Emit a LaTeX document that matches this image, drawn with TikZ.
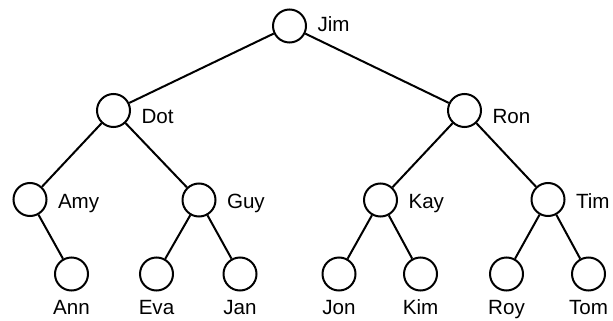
\documentclass[tikz,border=0pt]{standalone}
\usepackage{fontspec}
\setmainfont{Liberation Sans}
\usepackage{tikz}
\usetikzlibrary{positioning}

\begin{document}
\begin{tikzpicture}[x=0.5pt,y=-0.5pt,line width=1pt,
  person/.style={draw,circle,minimum size=16.5pt,inner sep=0pt},
  every label/.style={inner sep=0pt,font=\fontsize{10.3}{12}\selectfont},
  ]
  \useasboundingbox (0,0) rectangle (613,320);
  % top
  \node[person,label={[anchor=base west,label distance=4.75pt,yshift=-3pt]0:Jim}] (Jim) at (289.5,26) {};
  % second row
  \node[person,label={[anchor=base west,label distance=4.75pt,yshift=-6.5pt]0:Dot}] (Dot) at (113.5,110.5) {};
  \node[person,label={[anchor=base west,label distance=4.75pt,yshift=-6.5pt]0:Ron}] (Ron) at (464.5,110.5) {};
  % third row
  \node[person,label={[anchor=base west,label distance=4.75pt,yshift=-4.25pt]0:Amy}] (Amy) at (30,199.5) {};
  \node[person,label={[anchor=base west,label distance=4.75pt,yshift=-4.25pt]0:Guy}] (Guy) at (199,200) {};
  \node[person,label={[anchor=base west,label distance=4.75pt,yshift=-4.25pt]0:Kay}] (Kay) at (380.5,200) {};
  \node[person,label={[anchor=base west,label distance=4.75pt,yshift=-4.25pt]0:Tim}] (Tim) at (548,199.5) {};
  % leaves
  \foreach \nm/\xx in {Ann/71.5,Eva/156.5,Jan/240,Jon/339,Kim/420.5,Roy/506.5,Tom/588.5}
    \node[person,label={[anchor=base,label distance=11.5pt]-90:\nm}] (\nm) at (\xx,274) {};
  \draw (Jim)--(Dot);
  \draw (Jim)--(Ron);
  \draw (Dot)--(Amy);
  \draw (Dot)--(Guy);
  \draw (Ron)--(Kay);
  \draw (Ron)--(Tim);
  \draw (Amy)--(Ann);
  \draw (Guy)--(Eva);
  \draw (Guy)--(Jan);
  \draw (Kay)--(Jon);
  \draw (Kay)--(Kim);
  \draw (Tim)--(Roy);
  \draw (Tim)--(Tom);
\end{tikzpicture}
\end{document}
